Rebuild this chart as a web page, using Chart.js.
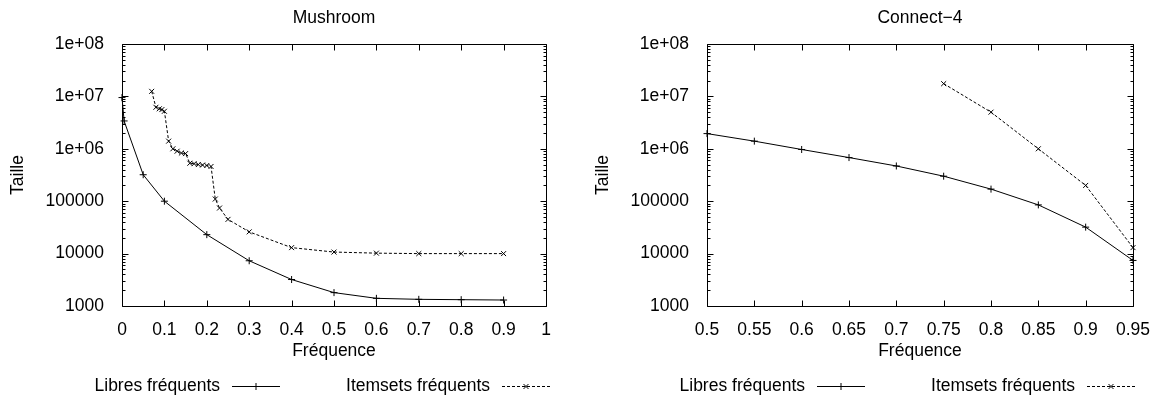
<!DOCTYPE html>
<html>
<head>
<meta charset="utf-8">
<script src="https://cdn.jsdelivr.net/npm/chart.js@4/dist/chart.umd.min.js"></script>
<style>
  body { margin: 0; background: #fff; }
  canvas { position: absolute; top: 0; }
  #mushroom { left: 0; }
  #connect4 { left: 581px; }
</style>
</head>
<body>
<canvas id="mushroom" width="581" height="397"></canvas>
<canvas id="connect4" width="582" height="397"></canvas>
<script>
// Mushroom
const mushFreqLibres = [0, 0.005, 0.05, 0.1, 0.2, 0.3, 0.4, 0.5, 0.6, 0.7, 0.8, 0.9];
const mushLibres = [9.5e6, 3.4e6, 3.2e5, 1.0e5, 2.3e4, 7300, 3200, 1800, 1400, 1340, 1320, 1300];
const mushFreqItemsets = [0.07, 0.08, 0.088, 0.094, 0.1, 0.11, 0.12, 0.13, 0.14, 0.15, 0.16, 0.17, 0.18, 0.19, 0.2, 0.21, 0.22, 0.23, 0.25, 0.3, 0.4, 0.5, 0.6, 0.7, 0.8, 0.9];
const mushItemsets = [1.25e7, 6.2e6, 5.8e6, 5.6e6, 5.2e6, 1.4e6, 1.0e6, 9.0e5, 8.3e5, 8.1e5, 5.3e5, 5.2e5, 5.0e5, 4.9e5, 4.8e5, 4.6e5, 1.1e5, 7.4e4, 4.5e4, 2.6e4, 1.3e4, 1.07e4, 1.02e4, 1.0e4, 1.0e4, 1.0e4];
const mushXTicks = [0, 0.1, 0.2, 0.3, 0.4, 0.5, 0.6, 0.7, 0.8, 0.9, 1];
const mushXLabels = ['0', '0.1', '0.2', '0.3', '0.4', '0.5', '0.6', '0.7', '0.8', '0.9', '1'];

// Connect-4
const c4FreqLibres = [0.5, 0.55, 0.6, 0.65, 0.7, 0.75, 0.8, 0.85, 0.9, 0.95];
const c4Libres = [1.95e6, 1.4e6, 9.7e5, 6.8e5, 4.7e5, 3.0e5, 1.7e5, 8.5e4, 3.2e4, 7400];
const c4FreqItemsets = [0.75, 0.8, 0.85, 0.9, 0.95];
const c4Itemsets = [1.75e7, 5.0e6, 1.0e6, 2.0e5, 1.3e4];
const c4XTicks = [0.5, 0.55, 0.6, 0.65, 0.7, 0.75, 0.8, 0.85, 0.9, 0.95];
const c4XLabels = ['0.5', '0.55', '0.6', '0.65', '0.7', '0.75', '0.8', '0.85', '0.9', '0.95'];

// shared y axis
const yTicks = [1e3, 1e4, 1e5, 1e6, 1e7, 1e8];
const yLabels = ['1000', '10000', '100000', '1e+06', '1e+07', '1e+08'];
const seriesNames = ['Libres fréquents', 'Itemsets fréquents'];

const FONT = { family: '"Liberation Sans", Arial, sans-serif', size: 17.5 };
Chart.defaults.color = '#000';
Chart.defaults.font.family = FONT.family;
Chart.defaults.font.size = FONT.size;

function pts(xs, ys) {
    return xs.map((x, i) => ({ x: x, y: ys[i] }));
}

// box + inward ticks, gnuplot style
const gnuFrame = {
    id: 'gnuFrame',
    afterDraw(chart) {
        const ctx = chart.ctx;
        const a = chart.chartArea;
        const x = chart.scales.x, y = chart.scales.y;
        ctx.save();
        ctx.strokeStyle = '#000';
        ctx.lineWidth = 1;
        ctx.beginPath();
        const L = Math.round(a.left) + 0.5, R = Math.round(a.right) + 0.5;
        const T = Math.round(a.top) + 0.5, B = Math.round(a.bottom) + 0.5;
        ctx.rect(L, T, R - L, B - T);
        x.ticks.forEach(t => {
            const px = Math.round(x.getPixelForValue(t.value)) + 0.5;
            ctx.moveTo(px, B); ctx.lineTo(px, B - 6);
            ctx.moveTo(px, T); ctx.lineTo(px, T + 6);
        });
        for (let d = 3; d <= 8; d++) {
            const py = Math.round(y.getPixelForValue(Math.pow(10, d))) + 0.5;
            ctx.moveTo(L, py); ctx.lineTo(L + 6, py);
            ctx.moveTo(R, py); ctx.lineTo(R - 6, py);
            if (d === 8) continue;
            for (let k = 2; k <= 9; k++) {
                const pm = Math.round(y.getPixelForValue(k * Math.pow(10, d))) + 0.5;
                ctx.moveTo(L, pm); ctx.lineTo(L + 3, pm);
                ctx.moveTo(R, pm); ctx.lineTo(R - 3, pm);
            }
        }
        ctx.stroke();
        ctx.restore();
    }
};

// key under the plot: text then line sample
const gnuKey = {
    id: 'gnuKey',
    afterDraw(chart, args, opts) {
        const ctx = chart.ctx;
        ctx.save();
        ctx.font = FONT.size + 'px ' + FONT.family;
        ctx.fillStyle = '#000';
        ctx.textAlign = 'right';
        ctx.textBaseline = 'middle';
        chart.data.datasets.forEach((ds, i) => {
            const xEnd = opts.textEnd[i];
            ctx.fillText(ds.label, xEnd, opts.y);
            const x1 = xEnd + 12, x2 = x1 + 48;
            ctx.strokeStyle = ds.borderColor;
            ctx.lineWidth = ds.borderWidth;
            ctx.setLineDash(ds.borderDash || []);
            ctx.beginPath();
            ctx.moveTo(x1, opts.y + 0.5);
            ctx.lineTo(x2, opts.y + 0.5);
            ctx.stroke();
            ctx.setLineDash([]);
            Chart.helpers.drawPoint(ctx, {
                pointStyle: ds.pointStyle, radius: ds.pointRadius, borderWidth: 1, rotation: 0
            }, (x1 + x2) / 2, opts.y + 0.5);
        });
        ctx.restore();
    }
};

function makeChart(id, title, libX, libY, itX, itY, xMin, xMax, xTicks, xLabels, yWidth, titlePad, rightPad, keyTextEnd) {
    return new Chart(document.getElementById(id), {
        type: 'line',
        data: {
            datasets: [
                {
                    label: seriesNames[0],
                    data: pts(libX, libY),
                    borderColor: '#000',
                    borderWidth: 1,
                    pointStyle: 'cross',
                    pointRadius: 3.5,
                    pointBorderWidth: 1,
                    pointBorderColor: '#000',
                    fill: false,
                    clip: false
                },
                {
                    label: seriesNames[1],
                    data: pts(itX, itY),
                    borderColor: '#000',
                    borderWidth: 1,
                    borderDash: [3, 2],
                    pointStyle: 'crossRot',
                    pointRadius: 3.5,
                    pointBorderWidth: 1,
                    pointBorderColor: '#000',
                    fill: false,
                    clip: false
                }
            ]
        },
        options: {
            responsive: false,
            animation: false,
            layout: { padding: { left: 0, right: rightPad, top: 0, bottom: 31.5 } },
            plugins: {
                legend: { display: false },
                tooltip: { enabled: false },
                title: {
                    display: true,
                    text: title,
                    fullSize: false,
                    font: { size: FONT.size, weight: 'normal' },
                    padding: { top: 7.5, bottom: 15.5 }
                },
                gnuKey: { y: 386, textEnd: keyTextEnd }
            },
            scales: {
                x: {
                    type: 'linear',
                    min: xMin,
                    max: xMax,
                    grid: { display: false },
                    border: { display: false },
                    afterBuildTicks: s => { s.ticks = xTicks.map(v => ({ value: v })); },
                    afterFit: s => { s.height = 59.5; },
                    ticks: {
                        autoSkip: false,
                        maxRotation: 0,
                        padding: 6,
                        callback: (v, i) => xLabels[i]
                    },
                    title: { display: true, text: 'Fréquence', padding: { top: 4, bottom: 4 } }
                },
                y: {
                    type: 'logarithmic',
                    min: 1000,
                    max: 1e8,
                    grid: { display: false },
                    border: { display: false },
                    afterBuildTicks: s => { s.ticks = yTicks.map(v => ({ value: v })); },
                    afterFit: s => { s.width = yWidth; },
                    ticks: {
                        autoSkip: false,
                        padding: 10,
                        callback: (v, i) => yLabels[i]
                    },
                    title: { display: true, text: 'Taille', padding: { top: titlePad, bottom: 4 } }
                }
            }
        },
        plugins: [gnuFrame, gnuKey]
    });
}

makeChart('mushroom', 'Mushroom', mushFreqLibres, mushLibres, mushFreqItemsets, mushItemsets,
    0, 1, mushXTicks, mushXLabels, 122, 7.5, 35, [220, 490]);
makeChart('connect4', 'Connect\u22124', c4FreqLibres, c4Libres, c4FreqItemsets, c4Itemsets,
    0.5, 0.95, c4XTicks, c4XLabels, 126, 11.5, 30, [224, 494]);
</script>
</body>
</html>
